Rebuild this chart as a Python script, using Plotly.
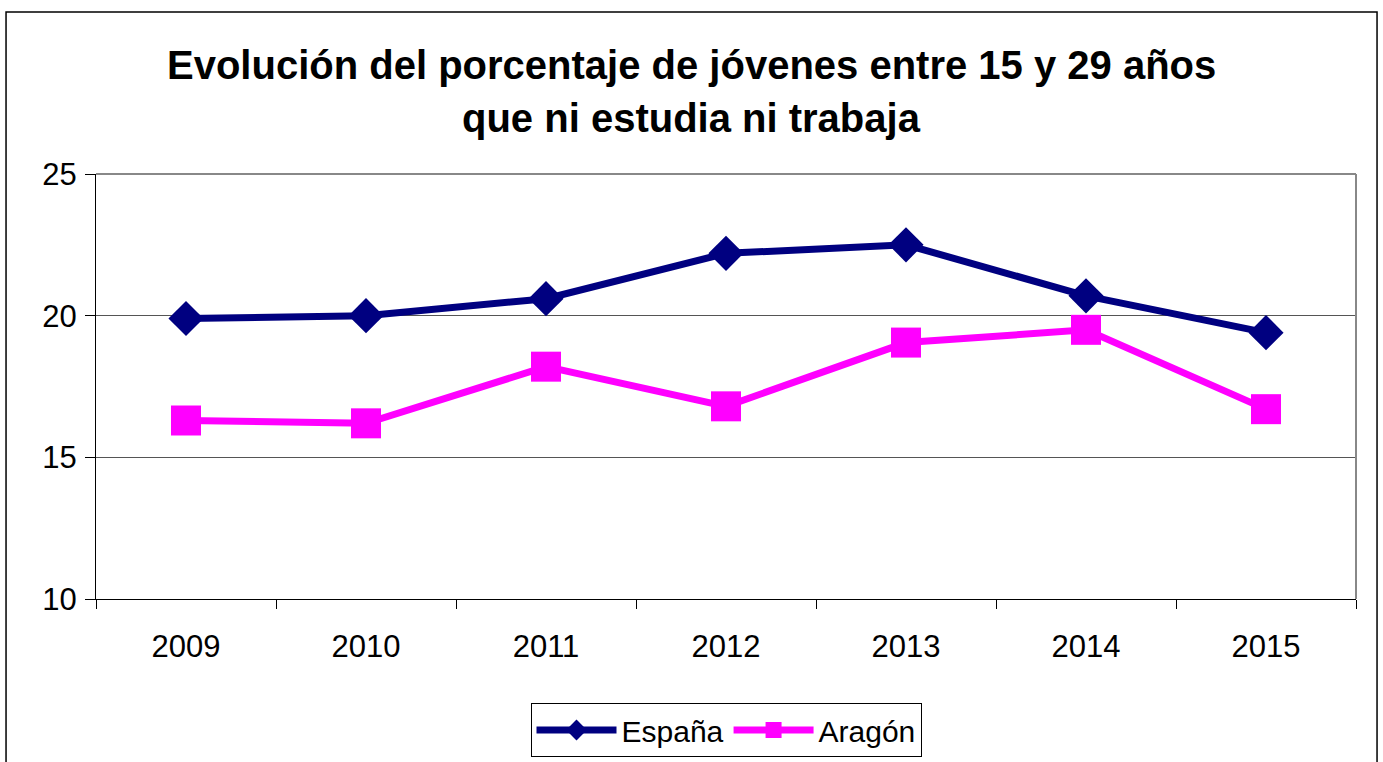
import plotly.graph_objects as go

years = ["2009", "2010", "2011", "2012", "2013", "2014", "2015"]
espana = [19.9, 20.0, 20.6, 22.2, 22.5, 20.7, 19.4]
aragon = [16.3, 16.2, 18.2, 16.8, 19.05, 19.5, 16.7]
title_lines = ["Evolución del porcentaje de jóvenes entre 15 y 29 años",
               "que ni estudia ni trabaja"]

FONT = "Liberation Sans, Arial, sans-serif"

fig = go.Figure()
fig.add_trace(go.Scatter(x=years, y=espana, name="España", mode="lines+markers",
                         line=dict(color="#000080", width=7),
                         marker=dict(symbol="diamond", size=27, color="#000080")))
fig.add_trace(go.Scatter(x=years, y=aragon, name="Aragón", mode="lines+markers",
                         line=dict(color="#FF00FF", width=7),
                         marker=dict(symbol="square", size=30, color="#FF00FF")))

fig.update_layout(
    width=1383, height=762,
    margin=dict(l=96, r=27, t=174, b=163, autoexpand=False),
    paper_bgcolor="white", plot_bgcolor="white",
    font=dict(family=FONT, size=31, color="black"),
    showlegend=True,
    legend=dict(orientation="h", x=0.5, xanchor="center",
                yref="container", y=1 - 703 / 762, yanchor="top",
                bordercolor="black", borderwidth=1, font=dict(size=30),
                itemwidth=80, tracegroupgap=0),
    xaxis=dict(type="category", range=[-0.5, len(years) - 0.5], autorange=False,
               showgrid=False, showline=True, linecolor="black",
               linewidth=1, ticks="outside", ticklen=9, tickcolor="black",
               tickson="boundaries", ticklabelstandoff=20,
               tickfont=dict(size=31)),
    yaxis=dict(range=[10, 25], dtick=5, showgrid=True, gridcolor="#555555",
               gridwidth=1, showline=True, linecolor="black", linewidth=1,
               ticks="outside", ticklen=10, tickcolor="black",
               ticklabelstandoff=2, zeroline=False, tickfont=dict(size=31)),
)

# plot area border (gray) top and right
fig.add_shape(type="line", xref="paper", yref="paper", x0=0, x1=1, y0=1, y1=1,
              line=dict(color="#888888", width=2))
fig.add_shape(type="line", xref="paper", yref="paper", x0=1, x1=1, y0=0, y1=1,
              line=dict(color="#888888", width=2))
# outer chart border
fig.add_shape(type="rect", xref="paper", yref="paper",
              x0=-0.0714, x1=1.0167, y0=-0.45, y1=1.381,
              line=dict(color="black", width=1.5), layer="below")

fig.add_annotation(text="<b>" + title_lines[0] + "</b>", xref="paper", yref="paper",
                   x=0.473, y=(599 - 65) / 425, showarrow=False,
                   font=dict(size=40, family=FONT), xanchor="center", yanchor="middle")
fig.add_annotation(text="<b>" + title_lines[1] + "</b>", xref="paper", yref="paper",
                   x=0.473, y=(599 - 118) / 425, showarrow=False,
                   font=dict(size=40, family=FONT), xanchor="center", yanchor="middle")

fig.write_html("out.html", config={"displayModeBar": False},
               post_script="document.body.style.margin='0';document.body.style.overflow='hidden';")
